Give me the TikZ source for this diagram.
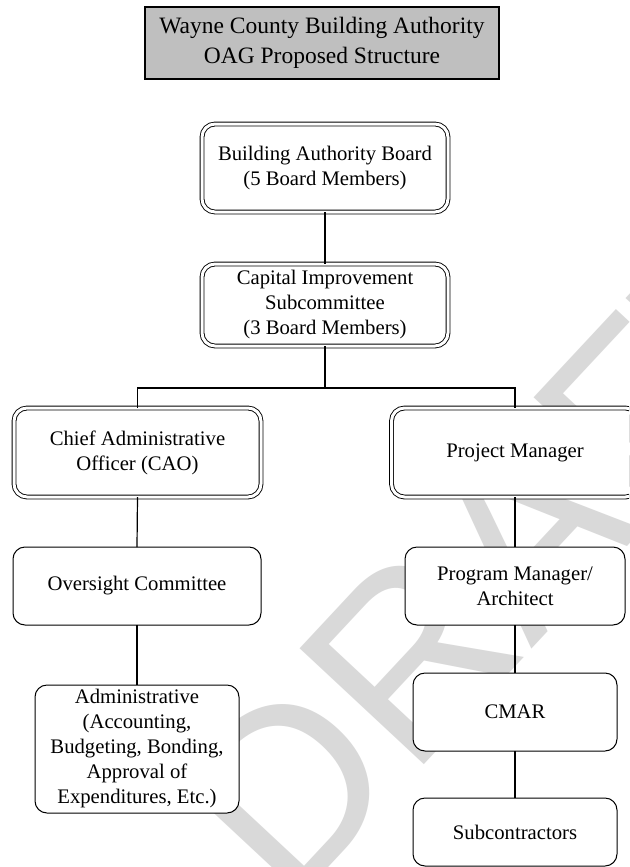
\documentclass[tikz,border=0pt]{standalone}
\usepackage{fontspec}
\setmainfont{Liberation Serif}
\setsansfont{Liberation Sans}
\begin{document}
\begin{tikzpicture}[x=1pt,y=-1pt,
  box/.style={draw=black, line width=1pt, fill=white, rounded corners=12pt,
    align=center, inner sep=0pt, outer sep=0pt,
    font=\fontsize{20.7}{25}\selectfont},
  dbox/.style={box, double=white, double distance=3pt, line width=0.9pt, rounded corners=13pt},
  titlebox/.style={draw=black, line width=2.5pt, fill=black!25, align=center,
    inner sep=0pt, outer sep=0pt, font=\fontsize{23.5}{30}\selectfont},
  conn/.style={draw=black, line width=1.2pt},
  wmark/.style={text=black!15, inner sep=0pt, font=\fontsize{247}{247}\selectfont\sffamily}]
\useasboundingbox (0,0) rectangle (629,867);
\clip (0,0) rectangle (629,867);
\fill[white] (0,0) rectangle (629,867);
% watermark
\node[wmark, rotate=47] (wm) at (507,551) {DRAFT};
% title
\node[titlebox, minimum width=354pt, minimum height=72pt] (title) at (322,43)
  {Wayne County Building Authority\\OAG Proposed Structure};
% boxes
\node[dbox, minimum width=246pt, minimum height=88pt] (bab) at (325,168)
  {Building Authority Board\\(5 Board Members)};
\node[dbox, minimum width=246pt, minimum height=82pt] (cis) at (325,305)
  {Capital Improvement\\Subcommittee\\(3 Board Members)};
\node[dbox, minimum width=247pt, minimum height=89pt] (cao) at (137.5,452.5)
  {Chief Administrative\\Officer (CAO)};
\node[dbox, minimum width=247pt, minimum height=89pt] (pm) at (515,452.5)
  {Project Manager};
\node[box, minimum width=248pt, minimum height=78pt] (oc) at (137,586)
  {Oversight Committee};
\node[box, minimum width=204pt, minimum height=128pt] (adm) at (137,749)
  {Administrative\\(Accounting,\\Budgeting, Bonding,\\Approval of\\Expenditures, Etc.)};
\node[box, minimum width=220pt, minimum height=78pt] (pgm) at (515,586)
  {Program Manager/\\Architect};
\node[box, minimum width=204pt, minimum height=78pt] (cmar) at (515,712)
  {CMAR};
\node[box, minimum width=204pt, minimum height=68pt] (sub) at (515,832)
  {Subcontractors};
% connectors
\coordinate (j) at (325,388);
\draw[conn] (bab.south) -- (cis.north);
\draw[conn] (cis.south) -- (j);
\draw[conn] (cao.north) |- (j) -| (pm.north);
\draw[conn] (cao.south) -- (oc.north);
\draw[conn] (oc.south) -- (adm.north);
\draw[conn] (pm.south) -- (pgm.north);
\draw[conn] (pgm.south) -- (cmar.north);
\draw[conn] (cmar.south) -- (sub.north);
\end{tikzpicture}
\end{document}
